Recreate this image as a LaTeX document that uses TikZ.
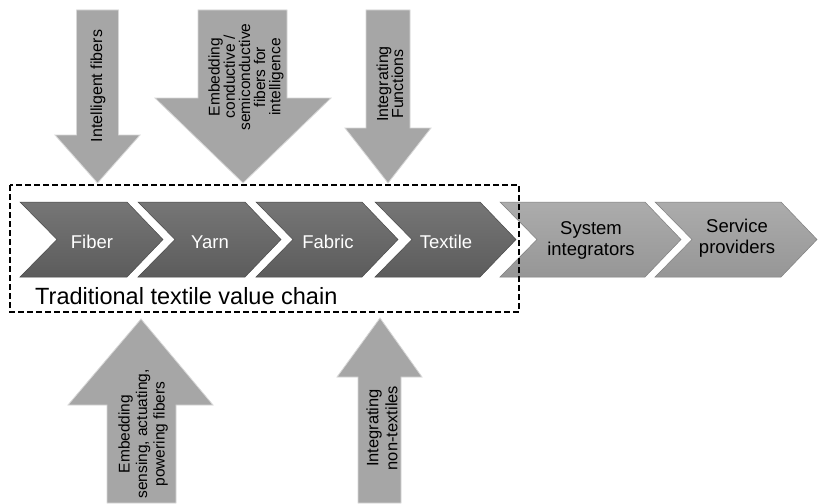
\documentclass[tikz,border=0pt]{standalone}
\usepackage{fontspec}
\setmainfont{Liberation Sans}
\definecolor{arrowgray}{RGB}{166,166,166}
\definecolor{arrowedge}{RGB}{215,215,215}
\definecolor{darktop}{RGB}{118,118,118}
\definecolor{darkbot}{RGB}{92,92,92}
\definecolor{lighttop}{RGB}{172,172,172}
\definecolor{lightbot}{RGB}{150,150,150}
\begin{document}
\begin{tikzpicture}[x=1pt,y=-1pt,
  blockarrow/.style={fill=arrowgray, draw=arrowedge, line width=0.8pt, line join=miter},
  darkchev/.style={top color=darktop, bottom color=darkbot, draw=darkbot!80!black, line width=0.5pt},
  lightchev/.style={top color=lighttop, bottom color=lightbot, draw=lightbot!85!black, line width=0.5pt},
  arrowtext/.style={rotate=90, align=center, inner sep=0pt, text=black},
  chevtext/.style={align=center, inner sep=0pt, font=\fontsize{18.5}{21}\selectfont},
  chainbox/.style={draw=black, line width=1.5pt, dash pattern=on 6pt off 3pt}
]
\useasboundingbox (0,0) rectangle (818,503);
\fill[white] (0,0) rectangle (818,503);

% ---- top block arrows ----
\draw[blockarrow] (76.5,10) -- (118.5,10) -- (118.5,135) -- (140,135) -- (97.5,183) -- (55,135) -- (76.5,135) -- cycle;
\node[arrowtext, font=\fontsize{16}{16}\selectfont] (a1) at (98,86) {Intelligent fibers};

\draw[blockarrow] (198,10) -- (287,10) -- (287,98) -- (331,98) -- (243,183) -- (155,98) -- (198,98) -- cycle;
\node[arrowtext, font=\fontsize{15.5}{15.2}\selectfont] (a2) at (246,77) {Embedding\\conductive /\\semiconductive\\fibers for\\intelligence};

\draw[blockarrow] (366,10) -- (410,10) -- (410,128) -- (431,128) -- (388,183) -- (345,128) -- (366,128) -- cycle;
\node[arrowtext, font=\fontsize{16}{15}\selectfont] (a3) at (390,84) {Integrating\\Functions};

% ---- bottom block arrows ----
\draw[blockarrow] (107,503) -- (107,405) -- (68,405) -- (141,319) -- (213,405) -- (176,405) -- (176,503) -- cycle;
\node[arrowtext, font=\fontsize{15.5}{17.5}\selectfont] (a4) at (143,434) {Embedding\\sensing, actuating,\\powering fibers};

\draw[blockarrow] (358,503) -- (358,377) -- (337,377) -- (380,318) -- (422,377) -- (401,377) -- (401,503) -- cycle;
\node[arrowtext, font=\fontsize{16.5}{19}\selectfont] (a5) at (382,428) {Integrating\\non-textiles};

% ---- chevrons ----
\newcommand{\chevron}[3]{%
  \path[#3] (#1,202) -- (#2,202) -- ({#2+36},239.5) -- (#2,277) -- (#1,277) -- ({#1+37},239.5) -- cycle;}
\chevron{20}{127}{darkchev}
\chevron{138}{245}{darkchev}
\chevron{256}{362}{darkchev}
\chevron{375}{480}{darkchev}
\chevron{500}{645}{lightchev}
\chevron{655}{781}{lightchev}

\node[chevtext, text=white] (fiber) at (92,242) {Fiber};
\node[chevtext, text=white] (yarn) at (210,242) {Yarn};
\node[chevtext, text=white] (fabric) at (328,242) {Fabric};
\node[chevtext, text=white] (textile) at (446,242) {Textile};
\node[chevtext, text=black] (sysint) at (591,240) {System\\integrators};
\node[chevtext, text=black] (service) at (737,238) {Service\\providers};

% ---- traditional chain box ----
\node[anchor=base west, inner sep=0pt, font=\fontsize{23.5}{23}\selectfont] (trad) at (35,304) {Traditional textile value chain};
\draw[chainbox] (10,185) rectangle (519,312);
\end{tikzpicture}
\end{document}
